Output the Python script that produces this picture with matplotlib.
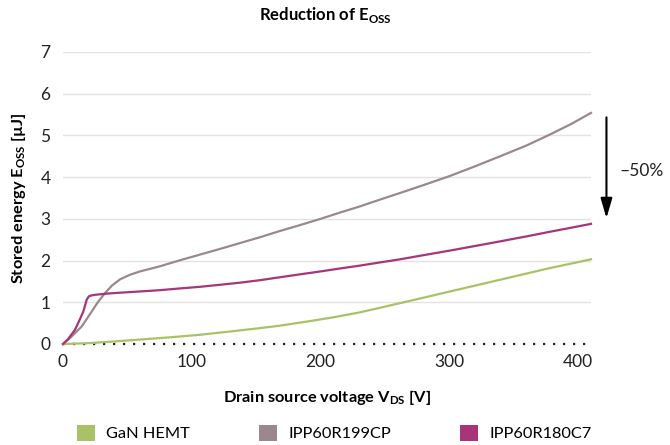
import matplotlib
matplotlib.use("Agg")
import matplotlib.pyplot as plt
from matplotlib.patches import Patch

plt.rcParams['font.family'] = ['Lato', 'DejaVu Sans']
plt.rcParams['mathtext.fontset'] = 'custom'
plt.rcParams['mathtext.rm'] = 'Lato'
plt.rcParams['mathtext.bf'] = 'Lato:bold'

# Data
v_gan = [0, 20, 44, 70, 87, 106, 130, 150, 168.5, 190, 210, 230.7, 245, 261.7, 280, 300.6, 320, 339.4, 360, 378, 395, 410]
e_gan = [0, 0.02, 0.07, 0.13, 0.17, 0.22, 0.3, 0.37, 0.44, 0.54, 0.64, 0.76, 0.86, 0.98, 1.11, 1.26, 1.4, 1.54, 1.69, 1.82, 1.93, 2.03]

v_cp = [0, 5, 10, 14.5, 18, 22.3, 27, 32.6, 38, 44.3, 52, 59.8, 75, 90, 106, 122, 137.5, 153, 168.5, 184, 200, 215,
        230.7, 245, 261.7, 280, 300.6, 320, 339.4, 360, 378, 395, 410]
e_cp = [0, 0.13, 0.28, 0.42, 0.58, 0.78, 1.0, 1.22, 1.4, 1.55, 1.66, 1.74, 1.86, 2.0, 2.14, 2.28, 2.42, 2.56, 2.71, 2.85, 3.0, 3.15,
        3.3, 3.45, 3.62, 3.81, 4.03, 4.26, 4.5, 4.76, 5.02, 5.28, 5.54]

v_c7 = [0, 4, 9.3, 12.5, 15.8, 18.4, 20, 21.5, 25, 35, 44.3, 60, 75, 90, 106, 122, 137.5, 153, 168.5, 184, 200, 215, 230.7,
        245, 261.7, 280, 300.6, 320, 339.4, 360, 378, 395, 410]
e_c7 = [0, 0.12, 0.34, 0.55, 0.78, 1.06, 1.14, 1.16, 1.18, 1.21, 1.23, 1.26, 1.29, 1.33, 1.37, 1.42, 1.47, 1.53, 1.6, 1.67, 1.74, 1.81, 1.88,
        1.95, 2.03, 2.13, 2.24, 2.35, 2.46, 2.58, 2.69, 2.79, 2.88]

labels = ['GaN HEMT', 'IPP60R199CP', 'IPP60R180C7']
colors = ['#a9c266', '#9a888c', '#a8347a']
x_ticks = [0, 100, 200, 300, 400]
y_ticks = [0, 1, 2, 3, 4, 5, 6, 7]

fig = plt.figure(figsize=(6.7, 4.45), dpi=100)
ax = fig.add_axes([63/670, (445-344)/445, (591-63)/670, (344-52)/445])

for yv in y_ticks[1:]:
    ax.axhline(yv, color='#e6e2e3', lw=1.0, zorder=0)
ax.axhline(0, color='#222222', lw=1.6, ls=(0, (1, 3.5)), zorder=1, clip_on=False)

ax.plot(v_gan, e_gan, color=colors[0], lw=1.6, zorder=3, clip_on=False)
ax.plot(v_cp, e_cp, color=colors[1], lw=1.6, zorder=3, clip_on=False)
ax.plot(v_c7, e_c7, color=colors[2], lw=1.6, zorder=4, clip_on=False)

ax.set_xlim(0, 410)
ax.set_ylim(0, 7)
ax.set_xticks(x_ticks)
ax.set_yticks(y_ticks)
ax.tick_params(length=0, labelsize=12.5, colors='#222222')
ax.tick_params(axis='y', pad=9)
ax.tick_params(axis='x', pad=7)
for s in ax.spines.values():
    s.set_visible(False)

ax.set_xlabel(r'Drain source voltage V$_{\mathbf{DS}}$ [V]', fontsize=11.8, fontweight='bold', labelpad=13)
ax.set_ylabel(r'Stored energy E$_{\mathbf{OSS}}$ [µJ]', fontsize=11.8, fontweight='bold', labelpad=9)
fig.text(325/670, 1 - 15/445, r'Reduction of E$_{\mathbf{OSS}}$', ha='center', va='center',
         fontsize=12, fontweight='bold')

# -50% arrow
ax.annotate('', xy=(422, 2.95), xytext=(422, 5.5), xycoords='data', annotation_clip=False,
            arrowprops=dict(arrowstyle='-|>,head_width=0.35,head_length=1.2', color='black', lw=1.5))
ax.text(432, 4.15, '–50%', fontsize=12.5, va='center', ha='left', color='#222222', clip_on=False)

handles = [Patch(facecolor=c, edgecolor='none') for c in colors]
leg = fig.legend(handles, labels, loc='center', bbox_to_anchor=(334/670, 1 - 433/445), ncol=3,
                 frameon=False, fontsize=11.8, handlelength=1.1, handleheight=1.1,
                 columnspacing=4.2, handletextpad=0.7)

fig.savefig('out.png', dpi=100)
